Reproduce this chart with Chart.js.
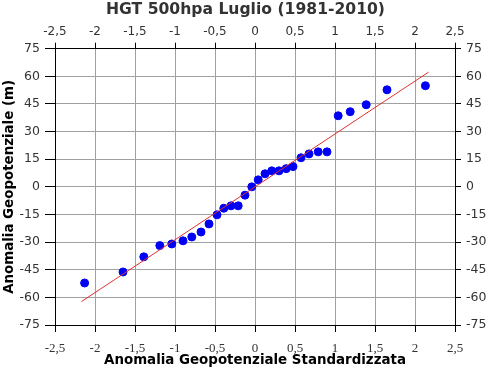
<!DOCTYPE html>
<html>
<head>
<meta charset="utf-8">
<script src="https://cdn.jsdelivr.net/npm/chart.js@4.4.1/dist/chart.umd.min.js"></script>
<style>
  html, body { margin: 0; padding: 0; background: #fff; }
  #wrap { width: 491px; height: 371px; }
</style>
</head>
<body>
<div id="wrap"><canvas id="myChart" width="491" height="371"></canvas></div>
<script>
// standardized anomaly (normal quantiles) and observed anomaly (m)
const zScores = [-2.13, -1.65, -1.39, -1.19, -1.04, -0.90, -0.79, -0.675, -0.575, -0.475,
  -0.39, -0.30, -0.21, -0.125, -0.04, 0.04, 0.125, 0.21, 0.30, 0.39,
  0.475, 0.575, 0.675, 0.79, 0.90, 1.04, 1.19, 1.39, 1.65, 2.13];
const anomalies = [-52.2, -46.2, -38.0, -31.9, -31.0, -29.3, -27.2, -24.5, -20.1, -15.2,
  -11.6, -10.3, -10.3, -4.5, 0.0, 3.8, 7.1, 8.7, 8.7, 9.9,
  11.0, 15.8, 17.9, 19.0, 19.0, 38.6, 40.8, 44.6, 52.7, 54.9];
// fitted line end points
const fitX = [-2.17, 2.17];
const fitY = [-62.3, 62.3];

const xTicks = [-2.5, -2, -1.5, -1, -0.5, 0, 0.5, 1, 1.5, 2, 2.5];
const yTicks = [-75, -60, -45, -30, -15, 0, 15, 30, 45, 60, 75];

const comma = v => String(v).replace('.', ',');
const sans = "'DejaVu Sans', sans-serif";
const serif = "'Liberation Serif', serif";

function fixTicks(list) {
  return function (scale) {
    scale.ticks = list.map(v => ({ value: v }));
  };
}
function fixSize(w, h) {
  return function (scale) {
    if (w !== null) scale.width = w;
    if (h !== null) scale.height = h;
  };
}

new Chart(document.getElementById('myChart'), {
  type: 'scatter',
  data: {
    datasets: [
      {
        label: 'fit',
        type: 'line',
        data: fitX.map((x, i) => ({ x: x, y: fitY[i] })),
        borderColor: '#e03030',
        borderWidth: 1,
        pointRadius: 0,
        fill: false,
        xAxisID: 'x',
        yAxisID: 'y'
      },
      {
        label: 'dati',
        data: zScores.map((x, i) => ({ x: x, y: anomalies[i] })),
        backgroundColor: '#0000f5',
        borderColor: '#0000f5',
        borderWidth: 1,
        pointRadius: 4,
        xAxisID: 'x',
        yAxisID: 'y'
      }
    ]
  },
  options: {
    responsive: false,
    animation: false,
    layout: { padding: 0 },
    plugins: {
      legend: { display: false },
      tooltip: { enabled: false },
      title: {
        display: true,
        text: 'HGT 500hpa Luglio (1981-2010)',
        color: '#333',
        font: { family: sans, size: 15.6, weight: 'bold' },
        padding: { top: 1, bottom: 2 }
      }
    },
    scales: {
      x: {
        type: 'linear', position: 'bottom', min: -2.5, max: 2.5,
        afterBuildTicks: fixTicks(xTicks),
        afterFit: fixSize(null, 46),
        grid: { color: '#a0a0a0', tickColor: '#000', tickLength: 7 },
        border: { color: '#000' },
        ticks: { color: '#333', padding: 9, font: { family: serif, size: 13 }, callback: comma, maxRotation: 0 },
        title: { display: true, text: 'Anomalia Geopotenziale Standardizzata', color: '#000',
          font: { family: sans, size: 13.4, weight: 'bold' }, padding: { top: 0, bottom: 2 } }
      },
      x2: {
        type: 'linear', position: 'top', min: -2.5, max: 2.5,
        afterBuildTicks: fixTicks(xTicks),
        afterFit: fixSize(null, 27),
        grid: { drawOnChartArea: false, tickColor: '#000', tickLength: 6 },
        border: { color: '#000' },
        ticks: { color: '#333', padding: 4, font: { family: sans, size: 12 }, callback: comma, maxRotation: 0 }
      },
      y: {
        type: 'linear', position: 'left', min: -75, max: 75,
        afterBuildTicks: fixTicks(yTicks),
        afterFit: fixSize(55, null),
        grid: { color: '#a0a0a0', tickColor: '#000', tickLength: 10 },
        border: { color: '#000' },
        ticks: { color: '#333', padding: 5, font: { family: sans, size: 12.5 }, callback: comma },
        title: { display: true, text: 'Anomalia Geopotenziale (m)', color: '#000',
          font: { family: sans, size: 13.4, weight: 'bold' }, padding: { top: 1, bottom: 0 } }
      },
      y2: {
        type: 'linear', position: 'right', min: -75, max: 75,
        afterBuildTicks: fixTicks(yTicks),
        afterFit: fixSize(36, null),
        grid: { drawOnChartArea: false, tickColor: '#000', tickLength: 6 },
        border: { color: '#000' },
        ticks: { color: '#333', padding: 5, font: { family: sans, size: 12.5 }, callback: comma }
      }
    }
  }
});
</script>
</body>
</html>
